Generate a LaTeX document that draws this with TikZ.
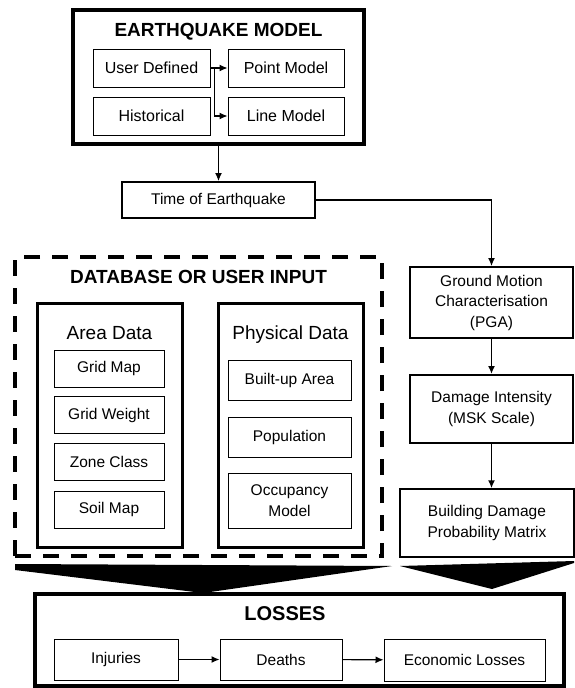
\documentclass[tikz,border=0pt]{standalone}
\usepackage{fontspec}
\setmainfont{Liberation Sans}
\usetikzlibrary{calc,arrows.meta}

\begin{document}
\begin{tikzpicture}[
		x=1pt, y=-1pt,
		every node/.style={font=\fontsize{15.5}{20.5}\selectfont, align=center, inner sep=0pt},
		thinbox/.style={draw, line width=1pt},
		midbox/.style={draw, line width=2pt},
		thickbox/.style={draw, line width=3.5pt},
		heading/.style={font=\fontsize{19}{22}\selectfont\bfseries},
		subhead/.style={font=\fontsize{19}{22}\selectfont},
		arrow/.style={-{Latex[length=8pt,width=7pt]}, line width=1.1pt},
		bigarrow/.style={fill=black}
	]
		\useasboundingbox (0,0) rectangle (574,688);

		% 地震模型
		\node[thickbox, minimum width=291, minimum height=134] (eqbox) at (218.5,77) {};
		\node[heading] (eqtitle) at (218.5,32) {EARTHQUAKE MODEL};
		\node[thinbox, minimum width=117, minimum height=38, font=\fontsize{16}{20}\selectfont] (ud) at (151.5,68) {User Defined};
		\node[thinbox, minimum width=117, minimum height=38, font=\fontsize{16}{20}\selectfont] (hist) at (151.5,116) {Historical};
		\node[thinbox, minimum width=116, minimum height=38, font=\fontsize{16}{20}\selectfont] (pm) at (286,68) {Point Model};
		\node[thinbox, minimum width=116, minimum height=38, font=\fontsize{16}{20}\selectfont] (lm) at (286,116) {Line Model};
		\draw[arrow] (ud.east) -- (pm.west);
		\draw[arrow] ($(ud.east)+(4,0)$) |- (lm.west);

		% 地震时间
		\node[midbox, minimum width=193, minimum height=36] (time) at (218.5,200) {Time of Earthquake};
		\draw[arrow] (eqbox) -- (time);

		% 右侧链
		\node[midbox, minimum width=163, minimum height=71] (gm) at (491.5,302.5) {Ground Motion\\Characterisation\\(PGA)};
		\node[midbox, minimum width=163, minimum height=68] (di) at (491.5,409) {Damage Intensity\\(MSK Scale)};
		\node[draw, line width=1.5pt, minimum width=174, minimum height=68] (bdpm) at (487,523) {Building Damage\\Probability Matrix};
		\draw[arrow] (time.east) -| (gm.north);
		\draw[arrow, line width=1.8pt] (gm) -- (di);
		\draw[arrow, line width=1.8pt] (di.south) -- (di.south |- bdpm.north);

		% 数据库
		\node[draw, line width=3.5pt, dash pattern=on 16pt off 12pt, minimum width=367, minimum height=299] (dbbox) at (198.5,406.5) {};
		\node[heading] (dbtitle) at (198.5,277) {DATABASE OR USER INPUT};

		\node[draw, line width=3pt, minimum width=145, minimum height=244] (area) at (109.5,425) {};
		\node[subhead] (areatitle) at (109.5,333) {Area Data};
		\node[thinbox, minimum width=110, minimum height=37] (gmap) at (109,368.5) {Grid Map};
		\node[thinbox, minimum width=110, minimum height=37] (gweight) at (109,415) {Grid Weight};
		\node[thinbox, minimum width=110, minimum height=37] (zone) at (109,462) {Zone Class};
		\node[thinbox, minimum width=110, minimum height=37] (soil) at (109,509.5) {Soil Map};

		\node[draw, line width=3pt, minimum width=145, minimum height=244] (phys) at (290.5,425) {};
		\node[subhead] (phystitle) at (290.5,335) {Physical Data};
		\node[thinbox, minimum width=123, minimum height=40] (built) at (289.5,380) {Built-up Area};
		\node[thinbox, minimum width=123, minimum height=40] (pop) at (289.5,437) {Population};
		\node[thinbox, minimum width=123, minimum height=55] (occ) at (289.5,500.5) {Occupancy\\Model};

		% 大箭头
		\fill[bigarrow] (15,564) -- (392,566) -- (203,593) -- (15,570) -- cycle;
		\fill[bigarrow] (400,566) -- (574,561) -- (574,563) -- (492,589) -- cycle;

		% 损失
		\node[thickbox, minimum width=529, minimum height=92] (loss) at (299.5,640) {};
		\node[heading, font=\fontsize{20}{22}\selectfont\bfseries] (losstitle) at (285,614) {LOSSES};
		\node[thinbox, minimum width=124, minimum height=41] (inj) at (116,659.5) {Injuries};
		\node[thinbox, minimum width=122, minimum height=41] (death) at (281,659.5) {Deaths};
		\node[thinbox, minimum width=161, minimum height=42] (econ) at (464.5,660) {Economic Losses};
		\draw[arrow] (inj) -- (death);
		\draw[arrow] (death) -- (econ);
	\end{tikzpicture}
\end{document}
